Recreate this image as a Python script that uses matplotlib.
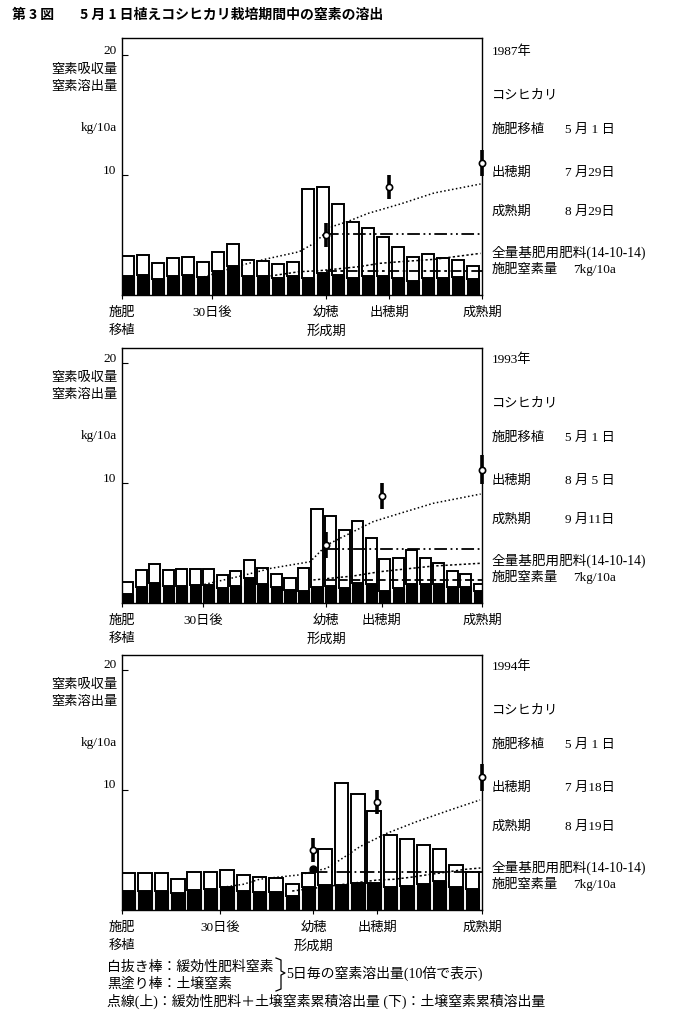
import matplotlib
matplotlib.use('Agg')
import matplotlib.pyplot as plt
from matplotlib.lines import Line2D
from matplotlib.transforms import ScaledTranslation

plt.rcParams['font.family'] = ['Liberation Serif', 'Noto Sans CJK JP']
plt.rcParams['font.size'] = 9.5

W, H = 673, 1018

years = ['1987年', '1993年', '1994年']
heading_dates = ['7 月29日', '8 月 5 日', '7 月18日']
maturity_dates = ['8 月29日', '9 月11日', '8 月19日']
season_len = [120, 133, 110]       # 施肥移植から成熟期までの日数
panicle_day = [68, 75.5, 58.5]     # 幼穂形成期
heading_day = [89, 96, 78]         # 出穂期

# 5日毎の窒素溶出量 (10倍表示): 棒の上端 と 黒塗り(土壌窒素)
total_87 = [3.25, 3.33, 2.64, 3.06, 3.19, 2.78, 3.61, 4.22, 2.92, 2.86, 2.56, 2.78,
            8.81, 8.97, 7.58, 6.06, 5.56, 4.86, 4.0, 3.14, 3.39, 3.11, 2.92, 2.42]
soil_87 = [1.58, 1.67, 1.31, 1.58, 1.67, 1.47, 2.03, 2.44, 1.58, 1.58, 1.44, 1.58,
           1.39, 1.81, 1.67, 1.44, 1.58, 1.58, 1.39, 1.17, 1.44, 1.44, 1.53, 1.33]
total_93 = [1.75, 2.72, 3.28, 2.72, 2.81, 2.81, 2.81, 2.36, 2.64, 3.56, 2.89, 2.39, 2.08,
            2.94, 7.86, 7.25, 6.11, 6.81, 5.44, 3.69, 3.78, 4.39, 3.78, 3.36, 2.64, 2.44, 1.61]
soil_93 = [0.72, 1.33, 1.69, 1.42, 1.42, 1.47, 1.47, 1.25, 1.42, 2.08, 1.56, 1.33, 1.11,
           1.0, 1.33, 1.42, 1.28, 1.69, 1.56, 1.0, 1.28, 1.61, 1.61, 1.61, 1.33, 1.33, 0.97]
total_94 = [3.11, 3.06, 3.06, 2.58, 3.14, 3.14, 3.33, 2.92, 2.72, 2.64, 2.14,
            3.06, 5.06, 10.56, 9.64, 8.28, 6.22, 5.92, 5.42, 5.11, 3.72, 3.19]
soil_94 = [1.61, 1.61, 1.61, 1.39, 1.67, 1.75, 1.89, 1.61, 1.47, 1.47, 1.17,
           1.89, 2.08, 2.08, 2.22, 2.22, 1.89, 2.03, 2.17, 2.42, 1.89, 1.72]

# 累積溶出量 (上: 緩効性肥料+土壌窒素, 下: 土壌窒素)
upper_87_day = [26, 40, 48, 59, 64, 70, 75, 82, 93, 104, 119.5]
upper_87 = [1.4, 2.5, 3.0, 3.6, 4.3, 5.7, 6.1, 6.8, 7.6, 8.5, 9.25]
lower_87_day = [48, 59, 66, 79, 86, 93, 104, 119.5]
lower_87 = [1.53, 1.94, 2.03, 2.36, 2.64, 2.78, 2.97, 3.47]
upper_93_day = [29, 45, 55, 69.5, 75.6, 83, 92.8, 102.7, 115, 132.5]
upper_93 = [1.47, 2.31, 2.89, 3.44, 4.83, 5.67, 6.78, 7.47, 8.31, 9.08]
lower_93_day = [70.7, 85.4, 95.3, 115, 132.5]
lower_93 = [1.92, 2.25, 2.61, 3.08, 3.31]
upper_94_day = [32, 37, 42, 47, 54, 62.5, 66.6, 72.7, 80.9, 90, 100.2, 109.4]
upper_94 = [1.94, 2.14, 2.56, 2.72, 2.92, 3.47, 4.17, 5.28, 6.39, 7.36, 8.33, 9.17]
lower_94_day = [52, 78, 83, 88, 93, 105, 109.5]
lower_94 = [1.58, 2.5, 2.56, 2.72, 2.92, 3.39, 3.5]

# 幼穂形成期以降の水平線 (値)
hline_87 = [5.06, 2.03]
hline_93 = [4.47, 1.92]
hline_94 = [3.19]

# 窒素吸収量 (幼穂形成期, 出穂期, 成熟期)
uptake_87 = [5.0, 9.0, 11.0]
uptake_87_err = [1.0, 1.0, 1.05]
uptake_93 = [4.83, 8.92, 11.1]
uptake_93_err = [1.1, 1.05, 1.2]
uptake_94 = [5.0, 9.0, 11.05]
uptake_94_err = [1.0, 1.0, 1.1]
dot_94 = 3.42

panels = [
    dict(total=total_87, soil=soil_87, up_d=upper_87_day, up=upper_87,
         lo_d=lower_87_day, lo=lower_87, hl=hline_87, hl_style=[(0, (7, 2, 1, 2, 1, 2)), (0, (6, 2, 1.5, 2))],
         upt=uptake_87, upt_err=uptake_87_err, base=295, top=38),
    dict(total=total_93, soil=soil_93, up_d=upper_93_day, up=upper_93,
         lo_d=lower_93_day, lo=lower_93, hl=hline_93, hl_style=[(0, (7, 2, 1, 2, 1, 2)), (0, (5, 2))],
         upt=uptake_93, upt_err=uptake_93_err, base=603, top=348),
    dict(total=total_94, soil=soil_94, up_d=upper_94_day, up=upper_94,
         lo_d=lower_94_day, lo=lower_94, hl=hline_94, hl_style=[(0, (8, 2, 1, 2))],
         upt=uptake_94, upt_err=uptake_94_err, base=910, top=655),
]

fig = plt.figure(figsize=(W / 100, H / 100), dpi=100)


def fy(y):
    return 1 - y / H


fig.text(12 / W, fy(15), '第 3 図', fontsize=10, fontweight='bold',
         family=['Noto Sans CJK JP'], va='center')
fig.text(80 / W, fy(15), '5 月 1 日植えコシヒカリ栽培期間中の窒素の溶出', fontsize=10,
         fontweight='bold', family=['Noto Sans CJK JP'], va='center')

for k, p in enumerate(panels):
    L = season_len[k]
    base, top = p['base'], p['top']
    ax = fig.add_axes([122 / W, fy(base), 360 / W, (base - top) / H])
    n = len(p['total'])
    x = [5 * i for i in range(n)]
    white = [t - s for t, s in zip(p['total'], p['soil'])]
    ax.bar(x, p['soil'], width=4.1, align='edge', color='black', edgecolor='black', lw=0.8, zorder=2)
    ax.bar(x, white, bottom=p['soil'], width=4.1, align='edge', color='white',
           edgecolor='black', lw=1.4, zorder=2)

    ax.plot(p['up_d'], p['up'], color='black', lw=1.1, ls=(0, (1, 1.6)), zorder=4)
    ax.plot(p['lo_d'], p['lo'], color='black', lw=1.1, ls=(0, (1.5, 1.5)), zorder=4)
    for v, st in zip(p['hl'], p['hl_style']):
        ax.hlines(v, panicle_day[k], L, color='black', lw=1.3, linestyles=[st], zorder=4)

    days = [panicle_day[k], heading_day[k], L]
    eb = ax.errorbar(days, p['upt'], yerr=p['upt_err'], fmt='o', ms=4.5, mfc='white',
                     mec='black', mew=1.2, ecolor='black', elinewidth=2.6, capsize=0, zorder=6)
    for a in eb.get_children():
        a.set_clip_on(False)
    if k == 2:
        ax.plot(panicle_day[k], dot_94, 'o', color='black', ms=5, zorder=6)

    ymax = (base - top) / 12
    ax.set_xlim(0, L)
    ax.set_ylim(0, ymax)
    ax.set_yticks([10, 20])
    ax.set_yticklabels(['10', '20'])
    ax.tick_params(axis='y', direction='in', length=4, pad=4, labelsize=9.5)
    off = ScaledTranslation(0, 6 / 100, fig.dpi_scale_trans)
    for t in ax.yaxis.get_major_ticks():
        t.label1.set_transform(t.label1.get_transform() + off)
    ax.set_xticks([0, 30, panicle_day[k], heading_day[k], L])
    ax.set_xticklabels([])
    ax.tick_params(axis='x', direction='out', length=3)
    for s in ax.spines.values():
        s.set_linewidth(1.0)

    row1 = ['施肥', '30日後', '幼穂', '出穂期', '成熟期']
    for d, t in zip([0, 30, panicle_day[k], heading_day[k], L], row1):
        ax.annotate(t, xy=(d, 0), xycoords=('data', 'axes fraction'), xytext=(0, -18 * 0.72),
                    textcoords='offset points', ha='center', va='center', annotation_clip=False)
    for d, t in zip([0, panicle_day[k]], ['移植', '形成期']):
        ax.annotate(t, xy=(d, 0), xycoords=('data', 'axes fraction'), xytext=(0, -36 * 0.72),
                    textcoords='offset points', ha='center', va='center', annotation_clip=False)

    # 左の軸名
    fig.text(117 / W, fy(base - 225), '窒素吸収量', ha='right', va='center')
    fig.text(117 / W, fy(base - 208), '窒素溶出量', ha='right', va='center')
    fig.text(117 / W, fy(base - 167), 'kg/10a', ha='right', va='center')

    # 右の説明
    fig.text(492 / W, fy(base - 243), years[k], va='center')
    fig.text(492 / W, fy(base - 200), 'コシヒカリ', va='center')
    fig.text(492 / W, fy(base - 165), '施肥移植', va='center')
    fig.text(565 / W, fy(base - 165), '5 月 1 日', va='center')
    fig.text(492 / W, fy(base - 122), '出穂期', va='center')
    fig.text(565 / W, fy(base - 122), heading_dates[k], va='center')
    fig.text(492 / W, fy(base - 83), '成熟期', va='center')
    fig.text(565 / W, fy(base - 83), maturity_dates[k], va='center')
    fig.text(492 / W, fy(base - 42), '全量基肥用肥料(14-10-14)', va='center', fontsize=9.8)
    fig.text(492 / W, fy(base - 25), '施肥窒素量', va='center')
    fig.text(573 / W, fy(base - 25), '7kg/10a', va='center')

# 凡例
fig.text(107 / W, fy(967), '白抜き棒：緩効性肥料窒素', va='center', fontsize=10)
fig.text(107 / W, fy(984), '黒塗り棒：土壌窒素', va='center', fontsize=10)
fig.text(286 / W, fy(973), '5日毎の窒素溶出量(10倍で表示)', va='center', fontsize=10)
fig.text(107 / W, fy(1001), '点線(上)：緩効性肥料＋土壌窒素累積溶出量 (下)：土壌窒素累積溶出量',
         va='center', fontsize=10)
bx = [276, 281, 281, 285, 281, 281, 276]
by = [958, 960, 971, 973, 975, 989, 991]
fig.add_artist(Line2D([v / W for v in bx], [fy(v) for v in by], color='black', lw=0.9))

fig.savefig('out.png', dpi=100)
